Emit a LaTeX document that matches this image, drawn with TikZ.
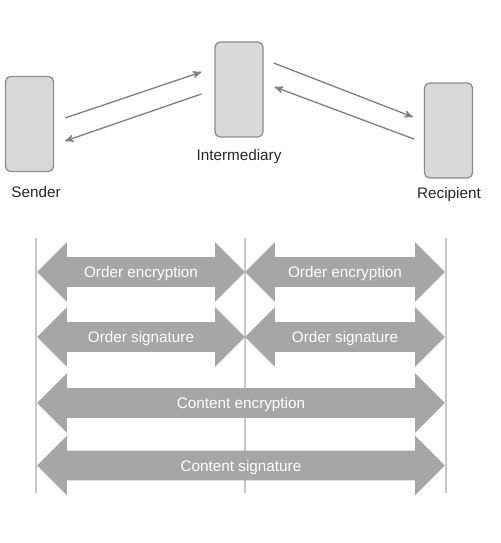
\documentclass[tikz,border=0pt]{standalone}
\usepackage{fontspec}
\setmainfont{Liberation Sans}
\usepackage{xcolor}
\definecolor{colorBox}{HTML}{D9D9D9}
\definecolor{colorBoxLine}{HTML}{8C8C8C}
\definecolor{colorFlow}{HTML}{808080}
\definecolor{colorBand}{HTML}{A6A6A6}
\definecolor{colorGuide}{HTML}{C8C8C8}
\definecolor{colorName}{HTML}{262626}
\usetikzlibrary{arrows, shapes.arrows, positioning}
\tikzset{
  party/.style={draw=colorBoxLine, fill=colorBox, line width=0.7pt, rounded corners=0.1cm, minimum width=0.96cm, minimum height=1.9cm},
  partyname/.style={font=\fontsize{8.7}{10}\selectfont, text=colorName, anchor=base, inner sep=0pt},
  message/.style={->, colorFlow, line width=0.75pt},
  band/.style={double arrow, fill=colorBand, text=white, font=\fontsize{8.7}{10}\selectfont, double arrow head extend=0.3cm, minimum width=1.18cm, inner xsep=0pt, inner ysep=0.14cm, text height=7.65pt, text depth=0.85pt},
}

\begin{document}
\begin{tikzpicture}[>=stealth', x=0.02cm, y=-0.02cm]
\useasboundingbox (0,0) rectangle (500,543);
% parties
\node[party] (sender) at (29.5,124) {};
\node[party] (intermediary) at (239,89.5) {};
\node[party] (recipient) at (448.5,130.5) {};
\node[partyname] (senderlabel) at (36,198) {Sender};
\node[partyname] (intermediarylabel) at (239,161) {Intermediary};
\node[partyname] (recipientlabel) at (449,199) {Recipient};
% messages
\draw[message] ([shift={(11,-6)}]sender.east) -- ([shift={(-13,-17.5)}]intermediary.west);
\draw[message] ([shift={(-13,4.5)}]intermediary.west) -- ([shift={(11,17)}]sender.east);
\draw[message] ([shift={(10,-26.5)}]intermediary.east) -- ([shift={(-11,-13.5)}]recipient.west);
\draw[message] ([shift={(-10,8.5)}]recipient.west) -- ([shift={(11,-2.5)}]intermediary.east);
% guides
\foreach \x in {36,245,446}
  \draw[colorGuide, line width=0.8pt] (\x,238) -- (\x,493);
% protection scopes
\node[band, minimum height=4.16cm] (orderenc1) at (141,272) {Order encryption};
\node[band, minimum height=4cm] (orderenc2) at (345,272) {Order encryption};
\node[band, minimum height=4.16cm] (ordersig1) at (141,337) {Order signature};
\node[band, minimum height=4cm] (ordersig2) at (345,337) {Order signature};
\node[band, minimum height=8.16cm] (contentenc) at (241,403) {Content encryption};
\node[band, minimum height=8.16cm] (contentsig) at (241,465.5) {Content signature};
\end{tikzpicture}
\end{document}
